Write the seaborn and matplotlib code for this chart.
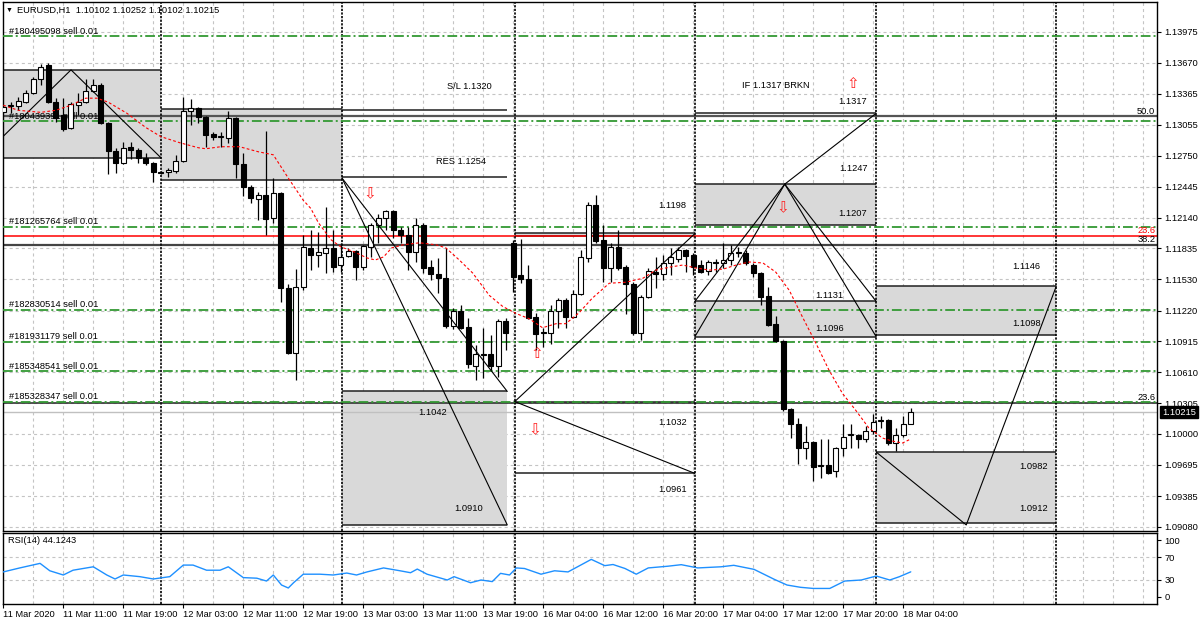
import matplotlib
matplotlib.use('Agg')
import matplotlib.pyplot as plt
import matplotlib.transforms as mtransforms
from matplotlib.patches import Rectangle
import seaborn as sns
import numpy as np

sns.set_theme(style='white')
plt.rcParams['font.family'] = ['Liberation Sans', 'DejaVu Sans']
plt.rcParams['lines.scale_dashes'] = False
FS = 6.7

# ---------------- data ----------------
opens = [1.1318, 1.1324, 1.1324, 1.1328, 1.1337, 1.1351, 1.1365, 1.1328, 1.1315, 1.1303,
         1.1325, 1.1328, 1.1339, 1.1345, 1.1307, 1.1280, 1.1268, 1.1284, 1.1281, 1.1273,
         1.1268, 1.1259, 1.1259, 1.1260, 1.1270, 1.1319, 1.1322, 1.1313, 1.1297, 1.1294,
         1.1293, 1.1312, 1.1267, 1.1244, 1.1232, 1.1236, 1.1214, 1.1238, 1.1144, 1.1080,
         1.1145, 1.1184, 1.1177, 1.1179, 1.1184, 1.1167, 1.1176, 1.1181, 1.1165, 1.1185,
         1.1207, 1.1214, 1.1220, 1.1202, 1.1197, 1.1180, 1.1207, 1.1165, 1.1158, 1.1154,
         1.1107, 1.1122, 1.1106, 1.1067, 1.1079, 1.1079, 1.1067, 1.1112, 1.1189, 1.1157,
         1.1153, 1.1116, 1.1100, 1.1100, 1.1122, 1.1132, 1.1116, 1.1138, 1.1174, 1.1226,
         1.1192, 1.1164, 1.1185, 1.1165, 1.1148, 1.1100, 1.1135, 1.1160, 1.1158, 1.1169,
         1.1173, 1.1182, 1.1177, 1.1167, 1.1161, 1.1170, 1.1169, 1.1172, 1.1179, 1.1179,
         1.1167, 1.1159, 1.1136, 1.1109, 1.1092, 1.1025, 1.1010, 1.0986, 1.0992, 1.0968,
         1.0969, 1.0963, 1.0986, 1.0999, 1.0999, 1.0995, 1.1003, 1.1013, 1.1014, 1.0991,
         1.0999, 1.10102]
highs = [1.1325, 1.1328, 1.1333, 1.1340, 1.1353, 1.1366, 1.1367, 1.1332, 1.1332, 1.1328,
         1.1337, 1.1351, 1.1351, 1.1347, 1.1308, 1.1283, 1.1289, 1.1289, 1.1283, 1.1278,
         1.1269, 1.1260, 1.1263, 1.1276, 1.1333, 1.1331, 1.1323, 1.1314, 1.1299, 1.1299,
         1.1319, 1.1313, 1.1278, 1.1246, 1.1239, 1.1300, 1.1253, 1.1239, 1.1148, 1.1163,
         1.1197, 1.1202, 1.1200, 1.1224, 1.1202, 1.1189, 1.1184, 1.1182, 1.1187, 1.1209,
         1.1217, 1.1221, 1.1221, 1.1205, 1.1205, 1.1214, 1.1209, 1.1172, 1.1174, 1.1184,
         1.1125, 1.1127, 1.1115, 1.1088, 1.1105, 1.1098, 1.1114, 1.1115, 1.1192, 1.1193,
         1.1167, 1.1120, 1.1105, 1.1127, 1.1134, 1.1134, 1.1142, 1.1182, 1.1229, 1.1236,
         1.1207, 1.1189, 1.1202, 1.1167, 1.1150, 1.1137, 1.1164, 1.1175, 1.1177, 1.1184,
         1.1185, 1.1183, 1.1179, 1.1172, 1.1172, 1.1173, 1.1189, 1.1187, 1.1185, 1.1182,
         1.1169, 1.1160, 1.1145, 1.1117, 1.1093, 1.1026, 1.1016, 1.1008, 1.0993, 1.0995,
         1.0995, 1.0987, 1.1010, 1.1010, 1.1000, 1.1008, 1.1020, 1.1018, 1.1015, 1.1006,
         1.1018, 1.10252]
lows = [1.1317, 1.1317, 1.1320, 1.1327, 1.1336, 1.1345, 1.1327, 1.1308, 1.1300, 1.1302,
        1.1315, 1.1327, 1.1338, 1.1306, 1.1257, 1.1258, 1.1267, 1.1272, 1.1268, 1.1266,
        1.1249, 1.1257, 1.1254, 1.1258, 1.1269, 1.1305, 1.1307, 1.1284, 1.1291, 1.1284,
        1.1288, 1.1253, 1.1235, 1.1228, 1.1212, 1.1197, 1.1209, 1.1130, 1.1079, 1.1053,
        1.1142, 1.1162, 1.1165, 1.1159, 1.1160, 1.1160, 1.1175, 1.1152, 1.1162, 1.1175,
        1.1189, 1.1202, 1.1194, 1.1189, 1.1162, 1.1170, 1.1159, 1.1152, 1.1139, 1.1105,
        1.1104, 1.1104, 1.1065, 1.1053, 1.1055, 1.1063, 1.1056, 1.1083, 1.1140, 1.1149,
        1.1114, 1.1083, 1.1086, 1.1089, 1.1105, 1.1105, 1.1115, 1.1137, 1.1170, 1.1189,
        1.1150, 1.1150, 1.1162, 1.1119, 1.1098, 1.1093, 1.1134, 1.1144, 1.1152, 1.1157,
        1.1170, 1.1160, 1.1157, 1.1159, 1.1157, 1.1160, 1.1164, 1.1167, 1.1175, 1.1167,
        1.1155, 1.1127, 1.1107, 1.1091, 1.1023, 1.0996, 1.0970, 1.0975, 1.0953, 1.0956,
        1.0960, 1.0957, 1.0978, 1.0986, 1.0986, 1.0992, 1.1000, 1.1006, 1.0989, 1.0983,
        1.0997, 1.10102]
closes = [1.1323, 1.1325, 1.1329, 1.1337, 1.1351, 1.1363, 1.1328, 1.1312, 1.1302, 1.1326,
          1.1328, 1.1339, 1.1345, 1.1307, 1.1280, 1.1268, 1.1283, 1.1281, 1.1273, 1.1268,
          1.1259, 1.1258, 1.1261, 1.1270, 1.1319, 1.1322, 1.1313, 1.1296, 1.1294, 1.1295,
          1.1312, 1.1267, 1.1244, 1.1233, 1.1236, 1.1213, 1.1238, 1.1144, 1.1080, 1.1145,
          1.1185, 1.1177, 1.1180, 1.1184, 1.1165, 1.1175, 1.1181, 1.1165, 1.1186, 1.1207,
          1.1214, 1.1220, 1.1202, 1.1197, 1.1180, 1.1207, 1.1164, 1.1158, 1.1154, 1.1107,
          1.1122, 1.1105, 1.1069, 1.1079, 1.1078, 1.1067, 1.1112, 1.1100, 1.1155, 1.1153,
          1.1115, 1.1099, 1.1101, 1.1122, 1.1132, 1.1116, 1.1138, 1.1175, 1.1226, 1.1191,
          1.1164, 1.1185, 1.1164, 1.1148, 1.1100, 1.1135, 1.1161, 1.1158, 1.1169, 1.1175,
          1.1182, 1.1176, 1.1165, 1.1160, 1.1170, 1.1169, 1.1172, 1.1179, 1.1180, 1.1169,
          1.1159, 1.1135, 1.1108, 1.1092, 1.1025, 1.1010, 1.0986, 1.0992, 1.0967, 1.0969,
          1.0961, 1.0986, 1.0997, 1.1000, 1.0995, 1.1003, 1.1012, 1.1014, 1.0991, 1.0999,
          1.1010, 1.10215]

ma_bar = [0, 2, 5, 7, 9, 11, 12.5, 14, 16.5, 19, 21, 23.5, 26, 27, 29, 31.5, 34, 36, 38, 40,
          41, 42, 43.7, 45, 46.8, 48.5, 49.6, 50.7, 51.8, 53.3, 55.5, 57.7, 59, 60.8, 62.6,
          64.8, 66.6, 68.4, 70.1, 71.9, 73.7, 75, 76.8, 78.5, 80.8, 83, 85.3, 87, 88.9, 90.6,
          92.4, 94.2, 96, 97.7, 99.5, 101.3, 103, 104.8, 106.6, 108.4, 110.1, 111.9, 113.7,
          115.4, 117.2, 118.5, 119.9, 121]
ma_val = [1.1325, 1.1320, 1.1318, 1.1320, 1.1325, 1.1332, 1.1332, 1.1328, 1.1317, 1.1303,
          1.1294, 1.1288, 1.1283, 1.1282, 1.1284, 1.1284, 1.1279, 1.1276, 1.1253, 1.1231,
          1.1223, 1.1209, 1.1192, 1.1185, 1.1180, 1.1174, 1.1172, 1.1175, 1.1184, 1.1187,
          1.1189, 1.1187, 1.1184, 1.1172, 1.1159, 1.1137, 1.1126, 1.1119, 1.1114, 1.1105,
          1.1109, 1.1109, 1.1120, 1.1134, 1.1149, 1.1150, 1.1154, 1.1162, 1.1165, 1.1167,
          1.1164, 1.1162, 1.1163, 1.1167, 1.1170, 1.1169, 1.1160, 1.1142, 1.1115, 1.1089,
          1.1063, 1.1040, 1.1023, 1.1006, 1.0996, 1.0993, 1.0991, 1.0995]

rsi_bar = [0, 2.2, 4.9, 6.2, 8, 9.3, 12, 13.8, 14.9, 16, 18.2, 20, 22.2, 24, 25.3, 27.1, 28.9,
           30, 32, 33.8, 35.1, 36, 37.1, 38, 38.7, 40, 42.2, 44, 45.8, 47.1, 48.5, 50.7, 52.9,
           54.3, 55.2, 56.5, 59.2, 60.1, 62.3, 63.7, 65.2, 66.3, 67.5, 68.4, 69.5, 71.7, 73.5,
           75.3, 78.4, 80.2, 81.3, 82.9, 84.4, 86, 88.6, 90.4, 92.6, 95.7, 97.4, 100.1, 102.8,
           104.5, 106.3, 108, 110.2, 112.2, 114.4, 116.4, 118.2, 119.5, 121]
rsi_val = [44, 51, 59, 46, 38.6, 47, 53, 38.6, 31.6, 38.6, 35.7, 31.6, 35.7, 56, 56, 47, 47,
           53, 34, 33, 28, 38.6, 21, 15.8, 25, 40, 40, 38.6, 42, 38.6, 44, 51, 46,
           42.6, 49, 40, 29.8, 35.7, 25, 29.8, 27, 41.5, 38.6, 51, 50, 40, 46,
           44, 66, 55, 57, 50, 40, 51, 54, 56.7, 51, 53, 55.6, 48.5, 31,
           21, 17, 15, 15, 28, 29.8, 36.8, 29.8, 35.7, 44.1243]

price_ticks = [1.13975, 1.13670, 1.13365, 1.13055, 1.12750, 1.12445, 1.12140, 1.11835,
               1.11530, 1.11220, 1.10915, 1.10610, 1.10305, 1.10000, 1.09695, 1.09385, 1.09080]
price_tick_labels = ['1.13975', '1.13670', '1.13365', '1.13055', '1.12750', '1.12445',
                     '1.12140', '1.11835', '1.11530', '1.11220', '1.10915', '1.10610',
                     '1.10305', '1.10000', '1.09695', '1.09385', '1.09080']
time_labels = ['11 Mar 2020', '11 Mar 11:00', '11 Mar 19:00', '12 Mar 03:00', '12 Mar 11:00',
               '12 Mar 19:00', '13 Mar 03:00', '13 Mar 11:00', '13 Mar 19:00', '16 Mar 04:00',
               '16 Mar 12:00', '16 Mar 20:00', '17 Mar 04:00', '17 Mar 12:00', '17 Mar 20:00',
               '18 Mar 04:00']
rsi_ticks = [100, 70, 30, 0]

order_ids = ['#180495098 sell 0.01', '#180439391 sell 0.01', '#181265764 sell 0.01',
             '#182830514 sell 0.01', '#181931179 sell 0.01', '#185348541 sell 0.01',
             '#185328347 sell 0.01']
order_prices = [1.1393, 1.1309, 1.1205, 1.1123, 1.1091, 1.1062, 1.1032]

fib_names = ['50.0', '23.6', '38.2', '23.6']
fib_prices = [1.1314, 1.1196, 1.1187, 1.1031]
bid_price = 1.10215

# day separators (bar index)
separators = [21.03, 45.16, 68.2, 92.2, 116.4, 140.4]

# zones: (start bar, end bar, low, high)
zones = [(-0.2, 21.03, 1.1273, 1.1360), (21.03, 45.16, 1.1251, 1.1321),
         (45.16, 67.2, 1.0910, 1.1042), (92.2, 116.4, 1.1207, 1.1247),
         (92.2, 116.4, 1.1096, 1.1131), (116.4, 140.4, 1.1098, 1.1146),
         (116.4, 140.4, 1.0912, 1.0982), (68.2, 92.2, 1.1196, 1.1199)]
# level segments: (start bar, end bar, price)
levels = [(45.16, 67.2, 1.1320), (45.16, 67.2, 1.1254), (92.2, 116.4, 1.1317),
          (68.2, 92.2, 1.1032), (68.2, 92.2, 1.0961)]
# trend lines / zigzags: lists of (bar, price)
trend_lines = [
    [(-0.05, 1.1294), (9.03, 1.1360), (21.03, 1.1273)],
    [(45.16, 1.1253), (67.2, 1.1042)],
    [(45.16, 1.1253), (67.2, 1.0910)],
    [(68.2, 1.1032), (92.2, 1.1198)],
    [(68.2, 1.1032), (92.2, 1.0961)],
    [(92.2, 1.1131), (104.2, 1.1247), (116.4, 1.1131)],
    [(92.2, 1.1096), (104.2, 1.1247), (116.4, 1.1096)],
    [(104.2, 1.1247), (116.4, 1.1317)],
    [(116.4, 1.0982), (128.4, 1.0910), (140.4, 1.1146)],
]
level_texts = ['1.1317', '1.1247', '1.1207', '1.1198', '1.1131', '1.1096', '1.1146', '1.1098',
               '1.1042', '1.0910', '1.1032', '1.0961', '1.0982', '1.0912',
               'S/L 1.1320', 'RES 1.1254', 'IF 1.1317 BRKN']
level_text_pos = [(113.3, 1.13292), (113.3, 1.12629), (113.3, 1.12184), (89.2, 1.12254),
                  (110.2, 1.11364), (110.2, 1.11038), (136.4, 1.11660), (136.4, 1.11087),
                  (57.2, 1.10207), (62.1, 1.09267), (89.3, 1.10117), (89.3, 1.09455),
                  (137.4, 1.09682), (137.4, 1.09267), (62.1, 1.13431), (61.0, 1.12689),
                  (103.0, 1.13450)]
arrow_dirs = ['down', 'up', 'down', 'down', 'up']
arrow_pos = [(48.9, 1.1238), (71.2, 1.1080), (70.9, 1.1004), (104.0, 1.1224), (113.3, 1.1347)]

# ---------------- figure ----------------
W, H = 1200, 623
fig = plt.figure(figsize=(12, 6.23), dpi=100)
fig.patch.set_facecolor('white')
L, R = 2.7, 1157.5
ax = fig.add_axes([L / W, 1 - 530.7 / H, (R - L) / W, (530.7 - 1.7) / H])
ax2 = fig.add_axes([L / W, 1 - 604 / H, (R - L) / W, (604 - 533) / H])
XMIN, XMAX = -0.08, 153.9

GRID = '#c4c4c4'
GREEN = '#339933'

for a in (ax, ax2):
    a.set_facecolor('white')
    for s in a.spines.values():
        s.set_color('black')
        s.set_linewidth(1.0)
    for k in range(1, 39):
        a.axvline(4 * k, color=GRID, lw=0.8, dashes=(2.2, 2.2), zorder=0)
    for sb in separators:
        a.axvline(sb, color='black', lw=1.2, dashes=(1.6, 1.0), zorder=2.5)

for pt in price_ticks:
    ax.axhline(pt, color=GRID, lw=0.8, dashes=(2.2, 2.2), zorder=0)

# zones
for x0, x1, lo, hi in zones:
    ax.add_patch(Rectangle((x0, lo), x1 - x0, hi - lo, facecolor='#d9d9d9',
                           edgecolor='none', zorder=1))
    ax.hlines([lo, hi], x0, x1, color='#202020', lw=1.1, zorder=2)
for x0, x1, pr in levels:
    ax.hlines(pr, x0, x1, color='#202020', lw=1.1, zorder=2)

# fib levels
fib_colors = ['#555555', 'red', '#444444', '#333333']
fib_lw = [1.6, 1.1, 1.6, 1.2]
for nm, pr, col, lw in zip(fib_names, fib_prices, fib_colors, fib_lw):
    ax.axhline(pr, color=col, lw=lw, zorder=2.2)
    ax.text(153.6, pr + 0.00004, nm, ha='right', va='bottom', fontsize=FS,
            color='red' if col == 'red' else 'black', zorder=3.5)

# bid line
ax.axhline(bid_price, color='#c0c0c0', lw=1.0, zorder=2.1)

# order lines
for lab, pr in zip(order_ids, order_prices):
    ax.axhline(pr, color=GREEN, lw=1.3, dashes=(7, 2.2, 1.4, 2.2), zorder=3)
    ax.text(0.76, pr + 0.00005, lab, ha='left', va='bottom', fontsize=FS,
            color='black', zorder=3.5)

# trend lines
for seg in trend_lines:
    xs = [p[0] for p in seg]
    ys = [p[1] for p in seg]
    ax.plot(xs, ys, color='black', lw=0.8, zorder=5.5)

for t, (bx, py) in zip(level_texts, level_text_pos):
    ax.text(bx, py, t, ha='center', va='center', fontsize=FS, color='black', zorder=3.5)

# candles
o = np.array(opens); h = np.array(highs); l = np.array(lows); c = np.array(closes)
idx = np.arange(len(o))
ax.vlines(idx, l, h, color='black', lw=0.9, zorder=5)
body_lo = np.minimum(o, c)
body_h = np.maximum(np.abs(c - o), 0.00001)
cols = np.where(c > o, 'white', 'black')
ax.bar(idx, body_h, bottom=body_lo, width=0.64, color=cols, edgecolor='black',
       linewidth=0.8, zorder=5.2)

# moving average
sns.lineplot(x=ma_bar, y=ma_val, ax=ax, color='red', linewidth=0.8,
             estimator=None, sort=False, zorder=6)
ax.lines[-1].set_dashes((2.0, 1.6))

# arrows
for d, (bx, py) in zip(arrow_dirs, arrow_pos):
    ax.text(bx, py, '\u21e9' if d == 'down' else '\u21e7', ha='center', va='center',
            fontsize=11, color='#ff2020', family=['DejaVu Sans'], zorder=7)

ax.set_xlim(XMIN, XMAX)
ax.set_ylim(1.09043, 1.14274)
ax.set_xticks([])
ax.yaxis.tick_right()
ax.set_yticks(price_ticks)
ax.set_yticklabels(price_tick_labels)
ax.tick_params(axis='y', direction='out', length=3, width=0.8, pad=2,
               labelsize=FS, colors='black', right=True)
ax.set_xlabel(''); ax.set_ylabel('')

# bid label
trans = mtransforms.blended_transform_factory(ax.transAxes, ax.transData)
ax.text(1.0 + 4.5 / (R - L), bid_price, '1.10215', transform=trans, ha='left', va='center',
        fontsize=FS, color='white', zorder=10, clip_on=False,
        bbox=dict(boxstyle='square,pad=0.18', facecolor='black', edgecolor='black'))

# RSI panel
for lv in (70, 30):
    ax2.axhline(lv, color=GRID, lw=0.8, dashes=(2.2, 2.2), zorder=0)
sns.lineplot(x=rsi_bar, y=rsi_val, ax=ax2, color='#1e90ff', linewidth=1.0,
             estimator=None, sort=False, zorder=4)
ax2.set_xlim(XMIN, XMAX)
ax2.set_ylim(-12.3, 112.3)
ax2.yaxis.tick_right()
ax2.set_yticks(rsi_ticks)
ax2.set_yticklabels([str(v) for v in rsi_ticks])
ax2.tick_params(axis='y', direction='out', length=3, width=0.8, pad=2,
                labelsize=FS, colors='black', right=True)
ax2.set_xticks(list(range(0, 121, 8)))
ax2.set_xticklabels(time_labels)
ax2.tick_params(axis='x', direction='out', length=3, width=0.8, pad=1.5,
                labelsize=FS, colors='black', bottom=True)
for lbl in ax2.get_xticklabels():
    lbl.set_ha('left')
ax2.set_xlabel(''); ax2.set_ylabel('')
ax2.text(0.65, 98.5, 'RSI(14) 44.1243', ha='left', va='center', fontsize=FS, color='black')

# header
fig.text(5.5 / W, 1 - 10.5 / H, '\u25bc', fontsize=5, ha='left', va='center', color='black')
fig.text(17 / W, 1 - 10 / H, 'EURUSD,H1  1.10102 1.10252 1.10102 1.10215', fontsize=FS,
         ha='left', va='center', color='black')

fig.savefig('out.png', dpi=100, facecolor='white')
